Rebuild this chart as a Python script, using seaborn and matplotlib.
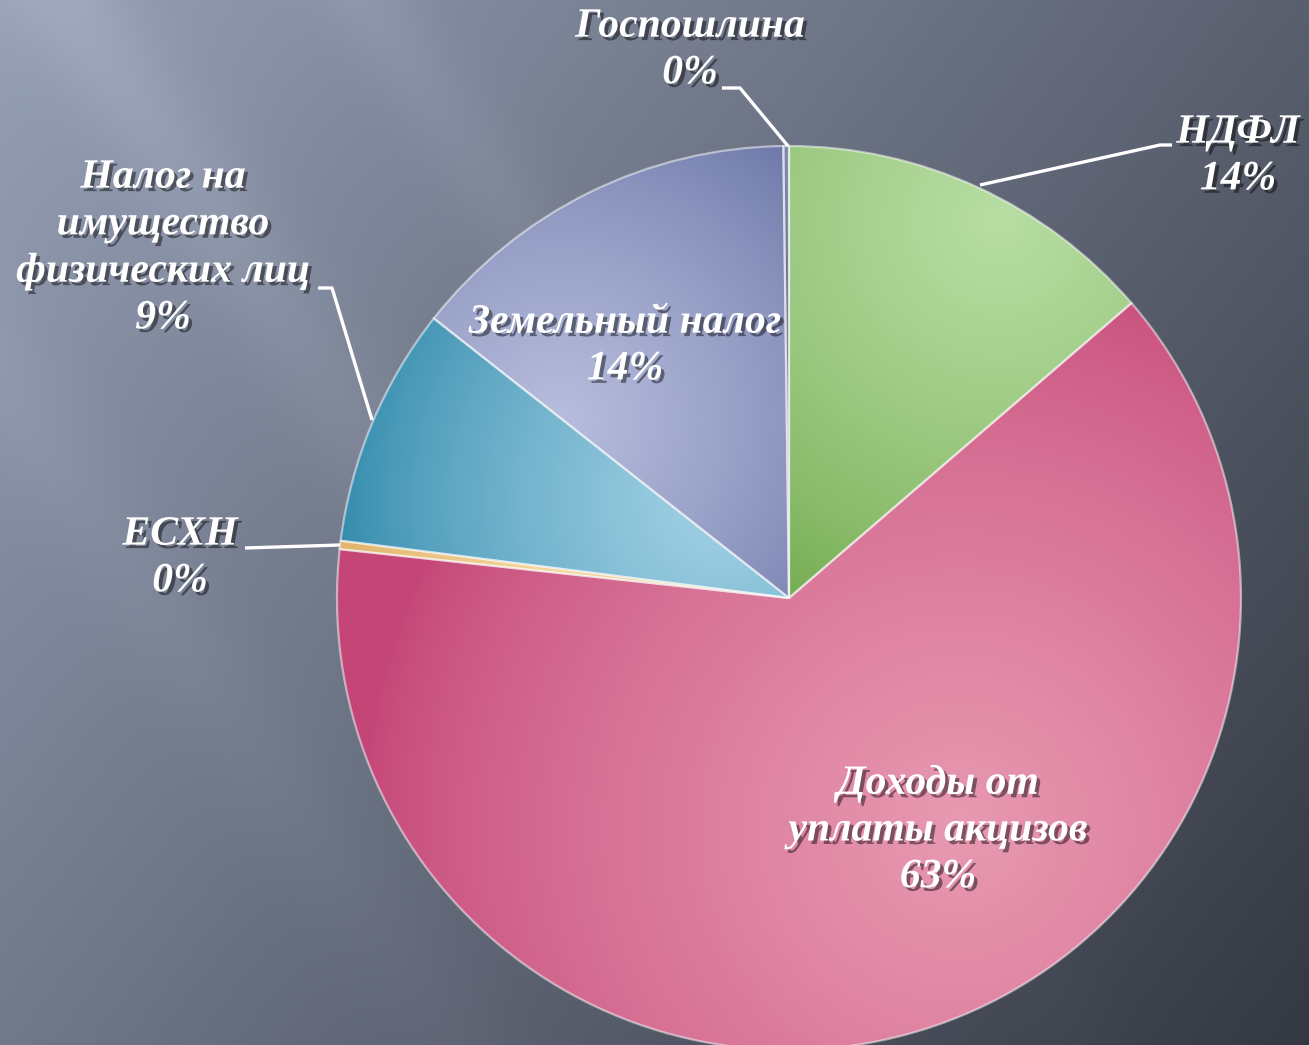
import numpy as np
import matplotlib
matplotlib.use("Agg")
import matplotlib.pyplot as plt
import matplotlib.patheffects as pe
import seaborn as sns

# ---- data ----
categories = ["НДФЛ", "Доходы от\nуплаты акцизов", "ЕСХН",
              "Налог на\nимущество\nфизических лиц", "Земельный налог", "Госпошлина"]
values = [13.7, 63.1, 0.3, 8.6, 14.2, 0.2]
light_colors = ["#b8dea4", "#e899b1", "#f6d9a0", "#a3d2e6", "#b7bddd", "#7f88aa"]
dark_colors = ["#6aa443", "#c44576", "#d49b4a", "#2683a6", "#5f6c9f", "#6b7498"]

sns.set_theme(style="white")
plt.rcParams['font.family'] = ['Liberation Serif', 'DejaVu Serif']

W, H = 1309, 1045
fig = plt.figure(figsize=(W / 100, H / 100), dpi=100)
ax = fig.add_axes([0, 0, 1, 1])

# background gradient
xx, yy = np.meshgrid(np.linspace(0, 1, 400), np.linspace(0, 1, 320))  # yy=0 top
t = np.clip(0.62 * xx + 0.38 * yy, 0, 1)
c_light = np.array([150, 160, 182]) / 255
c_dark = np.array([52, 56, 66]) / 255
bg = c_light[None, None, :] * (1 - t[..., None]) + c_dark[None, None, :] * t[..., None]
s = xx * 1.0 - yy * 0.55
streak = 0.05 * np.exp(-((s - 0.05) / 0.05) ** 2) + 0.04 * np.exp(-((s - 0.28) / 0.04) ** 2) \
    + 0.03 * np.exp(-((s + 0.2) / 0.05) ** 2)
bg = np.clip(bg + streak[..., None] * (1 - t[..., None]), 0, 1)
ax.imshow(bg, extent=(0, W, 0, H), aspect='auto', zorder=0, interpolation='bilinear')

cx, cy, R = 789, H - 598, 452
fracs = np.array(values) / sum(values)
wedges, _ = ax.pie(values, startangle=90, counterclock=False, center=(cx, cy), radius=R,
                   wedgeprops=dict(facecolor='none', edgecolor=(1, 1, 1, 0.5), linewidth=1.6))
for w in wedges:
    w.set_zorder(3)

# gradient fill for each wedge (highlight point in pixel coords of the picture)
hl = [(1000, 220), (960, 830), (560, 545), (720, 500), (560, 420), (785, 160)]
hs = [460, 600, 300, 400, 380, 100]
gx, gy = np.meshgrid(np.linspace(cx - R, cx + R, 300), np.linspace(cy + R, cy - R, 300))
for w, lc, dc, (hx, hy), sc in zip(wedges, light_colors, dark_colors, hl, hs):
    d = np.hypot(gx - hx, gy - (H - hy)) / sc
    f = np.clip(1 - d, 0, 1) ** 0.7
    lcv = np.array(matplotlib.colors.to_rgb(lc))
    dcv = np.array(matplotlib.colors.to_rgb(dc))
    img = dcv[None, None, :] * (1 - f[..., None]) + lcv[None, None, :] * f[..., None]
    im = ax.imshow(img, extent=(cx - R, cx + R, cy - R, cy + R), aspect='auto', zorder=2,
                   interpolation='bilinear')
    im.set_clip_path(w)

pcts = [f"{p * 100:.0f}%" for p in fracs]
effects = [pe.SimplePatchShadow(offset=(2.5, -2.5), shadow_rgbFace='black', alpha=0.45), pe.Normal()]
tk = dict(color='white', fontsize=30, fontweight='bold', fontstyle='italic', ha='center',
          va='center', linespacing=1.3, zorder=6, path_effects=effects)

# label positions (pixel coords of picture)
label_pos = [(1238, 156), (938, 830), (180, 558), (163, 248), (625, 346), (690, 50)]
for name, pct, (lx, ly) in zip(categories, pcts, label_pos):
    ax.text(lx, H - ly, f"{name}\n{pct}", **tk)

# leader lines
leaders = [
    [(980, 185), (1160, 145), (1172, 145)],
    [(245, 548), (340, 545)],
    [(318, 288), (332, 288), (372, 420)],
    [(722, 88), (740, 88), (788, 146)],
]
for pts in leaders:
    xs = [p[0] for p in pts]
    ys = [H - p[1] for p in pts]
    ax.plot(xs, ys, color='white', lw=2.4, zorder=5, solid_capstyle='butt')

ax.set_xlim(0, W)
ax.set_ylim(0, H)
ax.set_aspect('auto')
ax.axis('off')
fig.savefig("out.png", dpi=100)
